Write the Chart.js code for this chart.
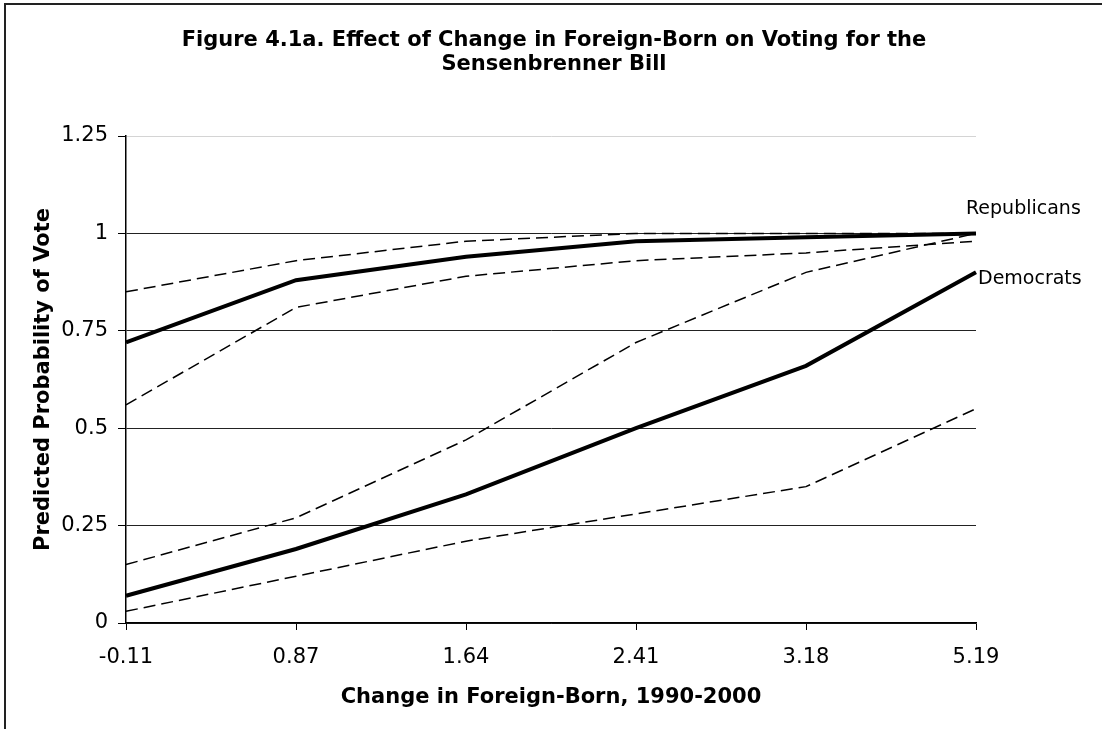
<!DOCTYPE html>
<html>
<head>
<meta charset="utf-8">
<title>Foreign-Born and the Sensenbrenner Bill</title>
<script src="https://cdn.jsdelivr.net/npm/chart.js@4.4.1/dist/chart.umd.min.js"></script>
<style>
  html, body { margin: 0; padding: 0; background: #fff; }
  #wrap { width: 1102px; height: 729px; position: relative; }
</style>
</head>
<body>
<div id="wrap"><canvas id="sensenbrennerChart"></canvas></div>
<script>
// change in foreign-born categories along the x axis
const changeLabels = ["-0.11", "0.87", "1.64", "2.41", "3.18", "5.19"];

// predicted probabilities with upper / lower bounds
const repEstimate = [0.72, 0.88, 0.94, 0.98, 0.99, 1.0];
const repUpper = [0.85, 0.93, 0.98, 1.0, 1.0, 1.0];
const repLower = [0.56, 0.81, 0.89, 0.93, 0.95, 0.98];
const demEstimate = [0.07, 0.19, 0.33, 0.5, 0.66, 0.9];
const demUpper = [0.15, 0.27, 0.47, 0.72, 0.9, 1.0];
const demLower = [0.03, 0.12, 0.21, 0.28, 0.35, 0.55];

const yTicks = [0, 0.25, 0.5, 0.75, 1, 1.25];

const titleLines = [
  "Figure 4.1a. Effect of Change in Foreign-Born on Voting for the",
  "Sensenbrenner Bill",
];

const FONT = "'DejaVu Sans', Verdana, sans-serif";

const solidLine = (label, data) => ({
  label: label,
  data: data,
  borderColor: "#000",
  borderWidth: 4,
  pointRadius: 0,
  tension: 0,
  fill: false,
});

const dashedLine = (label, data) => ({
  label: label,
  data: data,
  borderColor: "#000",
  borderWidth: 1.5,
  borderDash: [12, 6],
  pointRadius: 0,
  tension: 0,
  fill: false,
});

// white background, frame on the top and left, title text
const framePlugin = {
  id: "frame",
  beforeDraw(chart) {
    const { ctx, width, height } = chart;
    ctx.save();
    ctx.fillStyle = "#fff";
    ctx.fillRect(0, 0, width, height);
    ctx.strokeStyle = "#222";
    ctx.lineWidth = 2;
    ctx.beginPath();
    ctx.moveTo(5, height);
    ctx.lineTo(5, 4);
    ctx.lineTo(width, 4);
    ctx.stroke();

    ctx.fillStyle = "#000";
    ctx.font = "bold 21px " + FONT;
    ctx.textAlign = "center";
    ctx.textBaseline = "alphabetic";
    ctx.fillText(titleLines[0], 554, 46);
    ctx.fillText(titleLines[1], 554, 70);
    ctx.restore();
  },
};

// party names next to the last point of each estimate line
const partyLabelPlugin = {
  id: "partyLabels",
  afterDatasetsDraw(chart) {
    const { ctx } = chart;
    const repPt = chart.getDatasetMeta(0).data[changeLabels.length - 1];
    const demPt = chart.getDatasetMeta(3).data[changeLabels.length - 1];
    ctx.save();
    ctx.fillStyle = "#000";
    ctx.font = "19px " + FONT;
    ctx.textAlign = "left";
    ctx.textBaseline = "middle";
    ctx.fillText("Republicans", repPt.x - 10, repPt.y - 24);
    ctx.fillText("Democrats", demPt.x + 2, demPt.y + 7);
    ctx.restore();
  },
};

new Chart(document.getElementById("sensenbrennerChart"), {
  type: "line",
  data: {
    labels: changeLabels,
    datasets: [
      solidLine("Republicans", repEstimate),
      dashedLine("Republicans upper", repUpper),
      dashedLine("Republicans lower", repLower),
      solidLine("Democrats", demEstimate),
      dashedLine("Democrats upper", demUpper),
      dashedLine("Democrats lower", demLower),
    ],
  },
  options: {
    responsive: true,
    maintainAspectRatio: false,
    animation: false,
    layout: {
      padding: { top: 136, right: 126, left: 0, bottom: 0 },
    },
    plugins: {
      legend: { display: false },
      title: { display: false },
      tooltip: { enabled: false },
    },
    scales: {
      x: {
        type: "category",
        offset: false,
        afterFit: (scale) => {
          scale.height = 106;
        },
        grid: {
          drawOnChartArea: false,
          drawTicks: true,
          tickLength: 7,
          color: "#000",
          tickColor: "#000",
        },
        border: { display: true, color: "#000", width: 1.5 },
        ticks: {
          color: "#000",
          padding: 15,
          maxRotation: 0,
          font: { family: FONT, size: 21 },
        },
        title: {
          display: true,
          text: "Change in Foreign-Born, 1990-2000",
          color: "#000",
          font: { family: FONT, size: 21, weight: "bold" },
          padding: { top: 0, bottom: 19 },
        },
      },
      y: {
        min: 0,
        max: 1.25,
        afterFit: (scale) => {
          scale.width = 126;
        },
        afterBuildTicks: (scale) => {
          scale.ticks = yTicks.map((v) => ({ value: v }));
        },
        grid: {
          color: (c) => (c.tick && c.tick.value === 1.25 ? "#d4d4d4" : "#222"),
          lineWidth: 1,
          tickLength: 8,
          tickColor: "#000",
        },
        border: { display: true, color: "#000", width: 1.5 },
        ticks: {
          color: "#000",
          padding: 10,
          font: { family: FONT, size: 21 },
          callback: (value) => String(value),
        },
        title: {
          display: true,
          text: "Predicted Probability of Vote",
          color: "#000",
          font: { family: FONT, size: 21, weight: "bold" },
          padding: { top: 31, bottom: 0 },
        },
      },
    },
  },
  plugins: [framePlugin, partyLabelPlugin],
});
</script>
</body>
</html>
